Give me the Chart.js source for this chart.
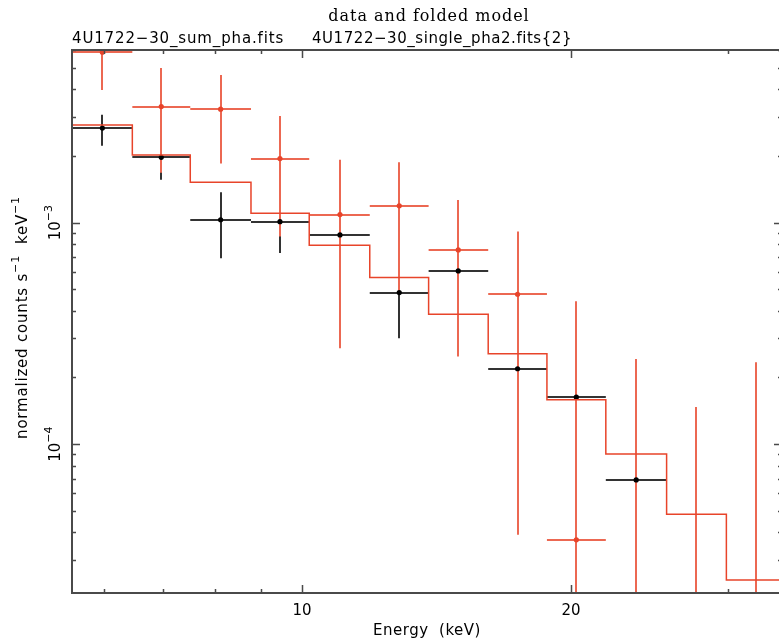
<!DOCTYPE html>
<html>
<head>
<meta charset="utf-8">
<script src="https://cdn.jsdelivr.net/npm/chart.js@4.4.0/dist/chart.umd.min.js"></script>
<style>
  html, body { margin: 0; padding: 0; background: #fff; overflow: hidden; }
</style>
</head>
<body>
<canvas id="chart" width="786" height="642"></canvas>
<script>
// ==== Data ====
// energy bins in keV (log spaced)
const binLo  = [5.52, 6.46, 7.50, 8.77, 10.19, 11.91, 13.86, 16.16, 18.80, 21.88, 25.59, 29.85];
const binHi  = [6.46, 7.50, 8.77, 10.19, 11.91, 13.86, 16.16, 18.80, 21.88, 25.59, 29.85, 34.80];
const binMid = [5.98, 6.96, 8.11, 9.45, 11.03, 12.85, 14.96, 17.43, 20.28, 23.66, 27.63, 32.24];

// 4U1722-30_sum_pha.fits (black)
const sumVal = [2.67e-3, 1.97e-3, 1.03e-3, 1.01e-3, 0.88e-3, 0.483e-3, 0.605e-3, 0.219e-3, 0.163e-3, 6.9e-5];
const sumLo  = [2.22e-3, 1.56e-3, 0.69e-3, 0.73e-3, 0.72e-3, 0.301e-3, 0.50e-3, 0.19e-3, 0.14e-3, 6.0e-5];
const sumHi  = [3.07e-3, 2.40e-3, 1.37e-3, 1.30e-3, 1.05e-3, 0.66e-3, 0.72e-3, 0.26e-3, 0.20e-3, 8.0e-5];

// 4U1722-30_single_pha2.fits{2} (red)
const singleVal = [5.87e-3, 3.34e-3, 3.25e-3, 1.945e-3, 1.087e-3, 1.19e-3, 0.753e-3, 0.475e-3, 3.70e-5, 1e-5, 1e-5, 1e-5];
const singleLo  = [3.97e-3, 1.68e-3, 1.85e-3, 0.865e-3, 0.271e-3, 0.49e-3, 0.2485e-3, 3.9e-5, 1e-6, 1e-6, 1e-6, 1e-6];
const singleHi  = [7.5e-3, 4.98e-3, 4.64e-3, 3.03e-3, 1.92e-3, 1.87e-3, 1.266e-3, 0.911e-3, 0.442e-3, 0.2426e-3, 0.147e-3, 0.234e-3];

// folded model (step per bin)
const modelVal = [2.757e-3, 2.02e-3, 1.521e-3, 1.102e-3, 0.791e-3, 0.565e-3, 0.386e-3, 0.2556e-3, 0.1585e-3, 9.04e-5, 4.83e-5, 2.44e-5];

// ticks
const xMajor = [10, 20];
const xLabels = ['10', '20'];
const xMinor = [6, 7, 8, 9, 30];
const yMajor = [1e-4, 1e-3];
const yLabels = [['10', '\u22124'], ['10', '\u22123']];
const yMinor = [3e-5, 4e-5, 5e-5, 6e-5, 7e-5, 8e-5, 9e-5,
                2e-4, 3e-4, 4e-4, 5e-4, 6e-4, 7e-4, 8e-4, 9e-4,
                2e-3, 3e-3, 4e-3, 5e-3, 6e-3];

const RED = 'rgb(232,68,42)';
const RED_BAR = 'rgb(236,104,82)';
const BLACK = '#000';
const AXIS = '#4a4a4a';

function points(xs, ys) {
  return ys.map((y, i) => ({ x: xs[i], y: y }));
}

const modelPts = points(binLo, modelVal);
modelPts.push({ x: binHi[binHi.length - 1], y: modelVal[modelVal.length - 1] });

// ==== Error bars: black first, red over it, points drawn afterwards ====
const errorBars = {
  id: 'errorBars',
  beforeDatasetsDraw(chart) {
    const ctx = chart.ctx;
    const xs = chart.scales.x, ys = chart.scales.y;
    const a = chart.chartArea;
    ctx.save();
    ctx.beginPath();
    ctx.rect(a.left, a.top, a.right - a.left, a.bottom - a.top);
    ctx.clip();
    ctx.lineWidth = 2;
    chart.data.datasets.forEach(ds => {
      if (!ds.errLo) return;
      // bars sit on whole pixels so the red ones hide the black ones fully
      ctx.strokeStyle = ds.barColor;
      ds.data.forEach((p, i) => {
        const px = Math.round(xs.getPixelForValue(p.x));
        const py = Math.round(ys.getPixelForValue(p.y));
        ctx.beginPath();
        ctx.moveTo(xs.getPixelForValue(binLo[i]), py);
        ctx.lineTo(xs.getPixelForValue(binHi[i]), py);
        ctx.moveTo(px, ys.getPixelForValue(ds.errHi[i]));
        ctx.lineTo(px, ys.getPixelForValue(ds.errLo[i]));
        ctx.stroke();
      });
    });
    ctx.restore();
  }
};

// ==== Frame, ticks and texts ====
function supText(ctx, parts, x, y, size, align) {
  // parts: [text, sup, text, sup, ...]
  const small = Math.round(size * 0.72);
  const widths = parts.map((t, i) => {
    ctx.font = (i % 2 ? small : size) + 'px "DejaVu Sans"';
    return ctx.measureText(t).width;
  });
  const total = widths.reduce((s, w) => s + w, 0);
  let cx = align === 'center' ? x - total / 2 : x;
  ctx.textAlign = 'left';
  parts.forEach((t, i) => {
    ctx.font = (i % 2 ? small : size) + 'px "DejaVu Sans"';
    ctx.fillText(t, cx, i % 2 ? y - size * 0.55 : y);
    cx += widths[i];
  });
}

const frame = {
  id: 'frame',
  afterDatasetsDraw(chart) {
    const ctx = chart.ctx;
    const xs = chart.scales.x, ys = chart.scales.y;
    const a = chart.chartArea;
    ctx.save();
    ctx.strokeStyle = AXIS;
    ctx.lineWidth = 1.5;
    function tickX(v, len) {
      const px = Math.round(xs.getPixelForValue(v)) + 0.5;
      ctx.beginPath();
      ctx.moveTo(px, a.bottom); ctx.lineTo(px, a.bottom - len);
      ctx.moveTo(px, a.top); ctx.lineTo(px, a.top + len);
      ctx.stroke();
    }
    function tickY(v, len) {
      const py = Math.round(ys.getPixelForValue(v)) + 0.5;
      ctx.beginPath();
      ctx.moveTo(a.left, py); ctx.lineTo(a.left + len, py);
      ctx.moveTo(a.right, py); ctx.lineTo(a.right - len, py);
      ctx.stroke();
    }
    xMajor.forEach(v => tickX(v, 8));
    xMinor.forEach(v => tickX(v, 4));
    yMajor.forEach(v => tickY(v, 8));
    yMinor.forEach(v => tickY(v, 4));
    ctx.lineWidth = 2;
    ctx.strokeRect(a.left, a.top, a.right - a.left, a.bottom - a.top);

    ctx.fillStyle = '#000';
    ctx.textBaseline = 'alphabetic';

    // x tick labels
    ctx.font = '15px "DejaVu Sans"';
    ctx.textAlign = 'center';
    xMajor.forEach((v, i) => ctx.fillText(xLabels[i], xs.getPixelForValue(v), 615));

    // x title
    ctx.letterSpacing = '0.5px';
    ctx.fillText('Energy  (keV)', (a.left + a.right) / 2, 635);

    // y tick labels (rotated)
    ctx.letterSpacing = '0px';
    yMajor.forEach((v, i) => {
      ctx.save();
      ctx.translate(60, ys.getPixelForValue(v));
      ctx.rotate(-Math.PI / 2);
      supText(ctx, yLabels[i], 0, 0, 15, 'center');
      ctx.restore();
    });

    // y title (rotated)
    ctx.save();
    ctx.translate(27, (a.top + a.bottom) / 2 - 4);
    ctx.rotate(-Math.PI / 2);
    ctx.letterSpacing = '0.8px';
    supText(ctx, ['normalized counts s', '\u22121', '  keV', '\u22121'], 0, 0, 15, 'center');
    ctx.restore();

    // titles
    ctx.textAlign = 'center';
    ctx.font = '16px "DejaVu Serif"';
    ctx.letterSpacing = '0.95px';
    ctx.fillText('data and folded model', 429, 21);
    ctx.textAlign = 'left';
    ctx.font = '15px "DejaVu Sans"';
    ctx.letterSpacing = '0.85px';
    ctx.fillText('4U1722\u221230_sum_pha.fits', 72, 43);
    ctx.letterSpacing = '0.55px';
    ctx.fillText('4U1722\u221230_single_pha2.fits{2}', 312, 43);
    ctx.restore();
  }
};

// ==== Chart ====
const ctx = document.getElementById('chart').getContext('2d');
const chart = new Chart(ctx, {
  type: 'scatter',
  data: {
    datasets: [
      {
        label: 'model',
        type: 'line',
        data: modelPts,
        stepped: 'before',
        borderColor: RED,
        borderWidth: 1.5,
        pointRadius: 0,
        fill: false,
        order: 0
      },
      {
        label: '4U1722-30_sum_pha.fits',
        data: points(binMid, sumVal),
        errLo: sumLo,
        errHi: sumHi,
        barColor: '#333',
        backgroundColor: BLACK,
        borderWidth: 0,
        pointRadius: 2.6,
        order: 1
      },
      {
        label: '4U1722-30_single_pha2.fits{2}',
        data: points(binMid, singleVal),
        errLo: singleLo,
        errHi: singleHi,
        barColor: RED_BAR,
        backgroundColor: RED,
        borderWidth: 0,
        pointRadius: 2.6,
        order: 2
      }
    ]
  },
  options: {
    responsive: false,
    animation: false,
    events: [],
    layout: { padding: { left: 72, top: 50, right: 1, bottom: 49 } },
    scales: {
      x: { type: 'logarithmic', min: 5.53, max: 34.45, display: false },
      y: { type: 'logarithmic', min: 2.13e-5, max: 6.01e-3, display: false }
    },
    plugins: { legend: { display: false }, tooltip: { enabled: false } }
  },
  plugins: [errorBars, frame]
});
</script>
</body>
</html>
